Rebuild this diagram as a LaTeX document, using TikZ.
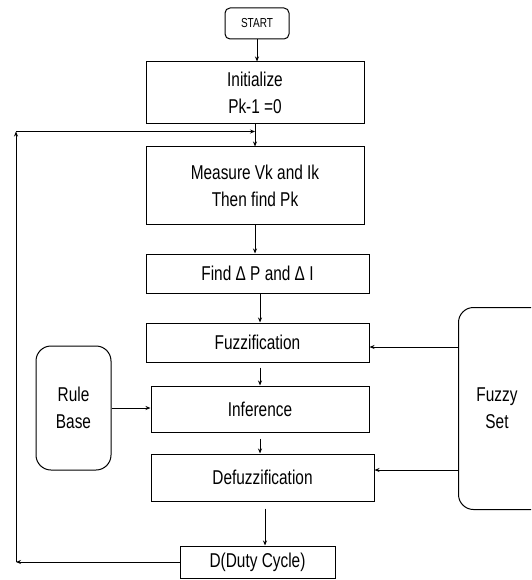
\documentclass[tikz,border=0pt]{standalone}
\usepackage{fontspec}
\setmainfont{Liberation Sans}[FakeStretch=0.77]
\usetikzlibrary{arrows.meta}

\begin{document}
\begin{tikzpicture}[x=1pt,y=-1pt,
        box/.style={draw,line width=1pt,align=center,inner sep=0pt,
            font=\fontsize{20}{27}\selectfont},
        soft/.style={box,rounded corners=15pt},
        arr/.style={line width=1pt,-{Stealth[length=5pt,width=4pt]}}]
                    \useasboundingbox (0,0) rectangle (531,580);
                    \clip (0,0) rectangle (531,580);

                    % main column
                    \node[box,rounded corners=5pt,minimum width=64pt,minimum height=31pt,
                        font=\fontsize{13}{15}\selectfont] (start) at (257,23.5) {START};
                    \node[box,minimum width=218pt,minimum height=62pt] (init) at (255,93) {Initialize\\Pk-1 =0};
                    \node[box,minimum width=218pt,minimum height=77pt] (meas) at (255,185.5) {Measure Vk and Ik\\Then find Pk};
                    \node[box,minimum width=223pt,minimum height=39pt] (find) at (257.5,273.5) {Find Δ P and Δ I};
                    \node[box,minimum width=223pt,minimum height=39pt] (fuzz) at (257.5,342.5) {Fuzzification};
                    \node[box,minimum width=218pt,minimum height=46pt] (infer) at (260,409) {Inference};
                    \node[box,minimum width=223pt,minimum height=47pt] (defuzz) at (262.5,477.5) {Defuzzification};
                    \node[box,minimum width=155pt,minimum height=32pt] (duty) at (257.5,562) {D(Duty Cycle)};

                    % side blocks
                    \node[soft,minimum width=75pt,minimum height=124pt] (rule) at (73.5,408) {Rule\\Base};
                    \node[box,draw=none,minimum width=76pt,minimum height=201pt] (fset) at (497,408.5) {Fuzzy\\Set};
                    \draw[line width=1pt,rounded corners=15pt] (fset.north west) rectangle ([xshift=30pt]fset.south east);

                    % flow
                    \draw[arr] (start.south) -- (start.south |- init.north);
                    \draw[arr] (init.south) -- (meas.north);
                    \draw[arr] (meas.south) -- (meas.south |- find.north);
                    \draw[arr] (infer |- find.south) -- (infer |- fuzz.north);
                    \draw[arr,shorten <=5pt] (infer |- fuzz.south) -- (infer.north);
                    \draw[arr,shorten <=6pt] (infer.south) -- (infer |- defuzz.north);
                    \coordinate (dd) at ([shift={(2.5,7)}]defuzz.south);
                    \draw[arr] (dd) -- (dd |- duty.north);

                    \draw[arr] (rule.east) -- (rule.east -| infer.west);
                    \draw[arr] ([yshift=-4.5pt]fset.west |- fuzz.east) -- ([yshift=-4.5pt]fuzz.east);
                    \draw[arr] ([yshift=7.5pt]fset.west |- defuzz.east) -- ([yshift=7.5pt]defuzz.east);

                    % feedback loop
                    \coordinate (fbl) at (16,562);
                    \coordinate (fbt) at (16,131.5);
                    \coordinate (fbj) at (255,131.5);
                    \draw[arr] (duty.west) -- (fbl);
                    \draw[arr] (fbl) -- (fbt);
                    \draw[arr] (fbt) -- (fbj);
                \end{tikzpicture}
\end{document}
